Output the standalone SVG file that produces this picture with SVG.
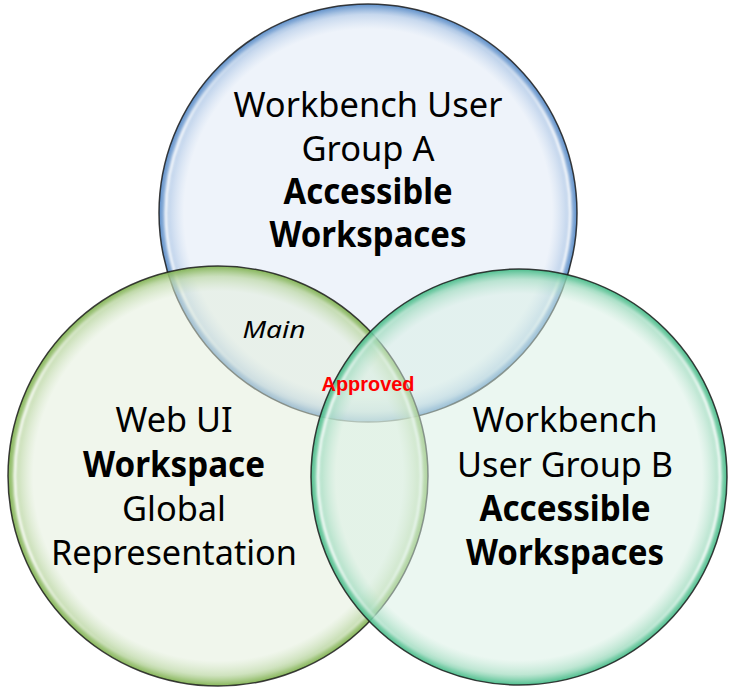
<svg xmlns="http://www.w3.org/2000/svg" width="730" height="688" viewBox="0 0 730 688">
  <defs>
    <radialGradient id="gBlue" cx="0.5" cy="0.5" r="0.5">
      <stop offset="0" stop-color="#dde7f5" stop-opacity="0.5"/>
      <stop offset="0.88" stop-color="#dde7f5" stop-opacity="0.5"/>
      <stop offset="0.95" stop-color="#b4cbe8" stop-opacity="0.75"/>
      <stop offset="1" stop-color="#5589c6" stop-opacity="0.95"/>
    </radialGradient>
    <radialGradient id="gGreen" cx="0.5" cy="0.5" r="0.5">
      <stop offset="0" stop-color="#e1edd9" stop-opacity="0.5"/>
      <stop offset="0.88" stop-color="#e1edd9" stop-opacity="0.5"/>
      <stop offset="0.95" stop-color="#bfd9a9" stop-opacity="0.75"/>
      <stop offset="1" stop-color="#7fb14f" stop-opacity="0.95"/>
    </radialGradient>
    <radialGradient id="gTeal" cx="0.5" cy="0.5" r="0.5">
      <stop offset="0" stop-color="#d7efe3" stop-opacity="0.5"/>
      <stop offset="0.88" stop-color="#d7efe3" stop-opacity="0.5"/>
      <stop offset="0.95" stop-color="#a8dec4" stop-opacity="0.75"/>
      <stop offset="1" stop-color="#45bb88" stop-opacity="0.95"/>
    </radialGradient>
    <linearGradient id="gShine" x1="0" y1="0" x2="0" y2="1">
      <stop offset="0" stop-color="#ffffff" stop-opacity="0"/>
      <stop offset="0.3" stop-color="#ffffff" stop-opacity="0.85"/>
      <stop offset="0.7" stop-color="#ffffff" stop-opacity="0.85"/>
      <stop offset="1" stop-color="#ffffff" stop-opacity="0"/>
    </linearGradient>
    <filter id="soft" x="-5%" y="-5%" width="110%" height="110%">
      <feGaussianBlur stdDeviation="1"/>
    </filter>
  </defs>
  <style>
    .ring { stroke: #1c1c1c; stroke-width: 1.5; stroke-opacity: 0.85; }
    .shine { fill: none; stroke: url(#gShine); stroke-width: 3; }
    .t { font-family: "Noto Sans", "Open Sans", "Liberation Sans", sans-serif; font-size: 35px; fill: #000; text-anchor: middle; }
    .b { font-weight: bold; }
    .main { font-family: "Noto Sans", "Open Sans", "Liberation Sans", sans-serif; font-style: italic; font-size: 24px; fill: #000; text-anchor: middle; }
    .appr { font-family: "Liberation Sans", Arial, sans-serif; font-weight: bold; font-size: 21px; fill: #ff0000; text-anchor: middle; }
  </style>
  <rect width="730" height="688" fill="#ffffff"/>

  <g id="groupA">
    <circle class="ring" cx="368" cy="213" r="209" fill="url(#gBlue)"/>
    <circle class="shine" cx="368" cy="213" r="202" filter="url(#soft)"/>
    <text class="t" x="368" y="117" textLength="269" lengthAdjust="spacingAndGlyphs">Workbench User</text>
    <text class="t" x="368" y="161" textLength="133" lengthAdjust="spacingAndGlyphs">Group A</text>
    <text class="t b" x="368" y="204" textLength="169" lengthAdjust="spacingAndGlyphs">Accessible</text>
    <text class="t b" x="368" y="247" textLength="197" lengthAdjust="spacingAndGlyphs">Workspaces</text>
  </g>

  <g id="webui">
    <circle class="ring" cx="218" cy="476" r="210" fill="url(#gGreen)"/>
    <circle class="shine" cx="218" cy="476" r="203" filter="url(#soft)"/>
    <text class="t" x="174" y="432" textLength="117" lengthAdjust="spacingAndGlyphs">Web UI</text>
    <text class="t b" x="174" y="477" textLength="182" lengthAdjust="spacingAndGlyphs">Workspace</text>
    <text class="t" x="174" y="521" textLength="104" lengthAdjust="spacingAndGlyphs">Global</text>
    <text class="t" x="174" y="565" textLength="246" lengthAdjust="spacingAndGlyphs">Representation</text>
  </g>

  <g id="groupB">
    <circle class="ring" cx="519" cy="477" r="208" fill="url(#gTeal)"/>
    <circle class="shine" cx="519" cy="477" r="201" filter="url(#soft)"/>
    <text class="t" x="565" y="432" textLength="185" lengthAdjust="spacingAndGlyphs">Workbench</text>
    <text class="t" x="565" y="477" textLength="216" lengthAdjust="spacingAndGlyphs">User Group B</text>
    <text class="t b" x="565" y="521" textLength="171" lengthAdjust="spacingAndGlyphs">Accessible</text>
    <text class="t b" x="565" y="565" textLength="198" lengthAdjust="spacingAndGlyphs">Workspaces</text>
  </g>

  <g id="labels">
    <text class="main" x="274" y="338" textLength="63" lengthAdjust="spacingAndGlyphs">Main</text>
    <text class="appr" x="368" y="391" textLength="93" lengthAdjust="spacingAndGlyphs">Approved</text>
  </g>
</svg>
